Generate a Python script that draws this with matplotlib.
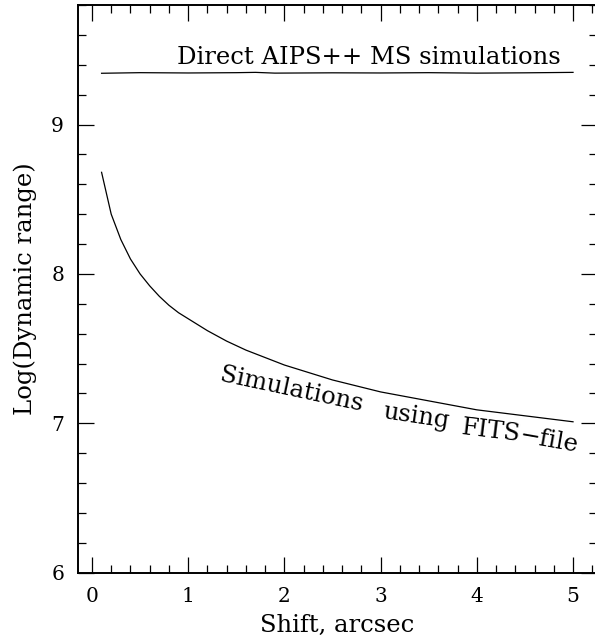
import numpy as np
import matplotlib
matplotlib.use("Agg")
import matplotlib.pyplot as plt
from matplotlib.ticker import MultipleLocator

# direct AIPS++ MS simulations (nearly flat)
shift_ms = [0.1, 0.5, 1.0, 1.5, 1.7, 1.9, 2.5, 3.0, 3.5, 4.0, 4.5, 5.0]
logdr_ms = [9.343, 9.347, 9.345, 9.347, 9.349, 9.344, 9.346, 9.345, 9.347, 9.344, 9.346, 9.349]

# simulations using FITS-file
shift_fits = [0.1, 0.2, 0.3, 0.4, 0.5, 0.6, 0.7, 0.8, 0.9, 1.0, 1.2, 1.4, 1.6, 1.8,
              2.0, 2.25, 2.5, 2.75, 3.0, 3.5, 4.0, 4.5, 5.0]
logdr_fits = [8.68, 8.40, 8.23, 8.10, 8.00, 7.92, 7.85, 7.79, 7.74, 7.70, 7.62, 7.55,
              7.49, 7.44, 7.39, 7.34, 7.29, 7.25, 7.21, 7.15, 7.09, 7.05, 7.01]

plt.rcParams['font.family'] = ['DejaVu Serif']

fig = plt.figure(figsize=(5.95, 6.41), dpi=100)
ax = fig.add_axes([0.1311, 0.1066, 0.8724, 0.8856])

ax.plot(shift_ms, logdr_ms, color='black', lw=0.9)
ax.plot(shift_fits, logdr_fits, color='black', lw=0.9)

ax.set_xlim(-0.145, 5.25)
ax.set_ylim(6, 9.8)

ax.xaxis.set_major_locator(MultipleLocator(1))
ax.xaxis.set_minor_locator(MultipleLocator(0.2))
ax.yaxis.set_major_locator(MultipleLocator(1))
ax.yaxis.set_minor_locator(MultipleLocator(0.2))
ax.tick_params(which='both', direction='in', top=True, right=True, width=0.9,
               labelsize=14.5, pad=10)
ax.tick_params(which='major', length=11.5)
ax.tick_params(which='minor', length=5.5)
for s in ax.spines.values():
    s.set_linewidth(1.4)

fs = 17.5
ax.set_xlabel('Shift, arcsec', fontsize=fs, labelpad=6)
ax.set_ylabel('Log(Dynamic range)', fontsize=fs, labelpad=10)

ax.text(2.88, 9.408, 'Direct AIPS++ MS simulations', fontsize=fs, ha='center', va='baseline')

# curved label placed word by word (pixel anchors converted to data)
def px2data(px, py):
    return (px - 91.8) / 96.3, 9 - (py - 124.3) / 149.5

for word, (px, py), rot in [('Simulations', (219, 381), -12.0),
                            ('using', (382, 418), -8.5),
                            ('FITS', (461, 434), -7.0),
                            ('\u2212file', (519, 442), -10.0)]:
    x, y = px2data(px, py)
    ax.text(x, y, word, fontsize=fs, ha='left', va='baseline',
            rotation=rot, rotation_mode='anchor')

fig.savefig('out.png', dpi=100)
